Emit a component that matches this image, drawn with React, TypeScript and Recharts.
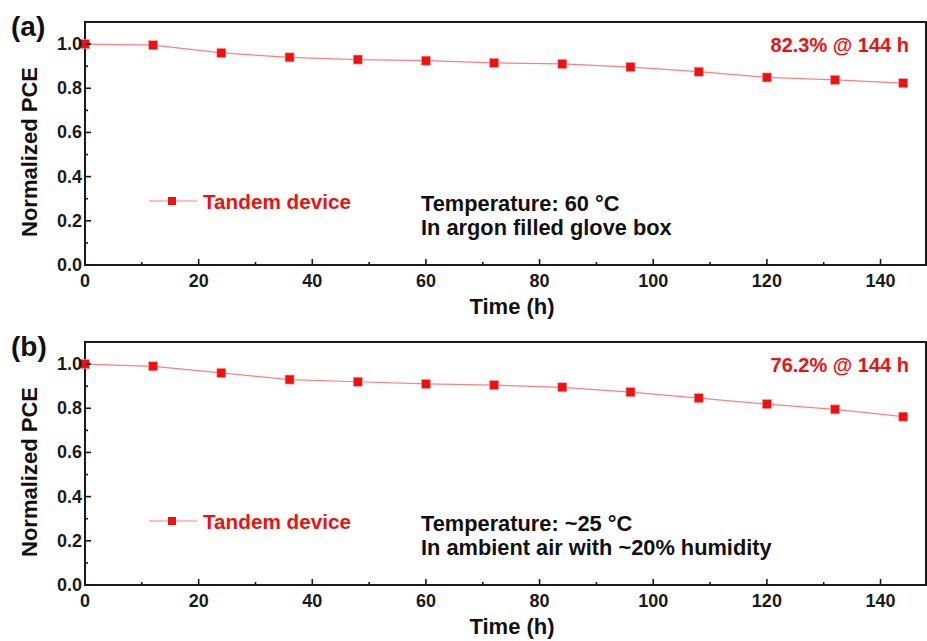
import React from "react";
import { LineChart, Line, XAxis, YAxis, ReferenceArea, Legend } from "recharts";

// time points (h)
const hours = [0, 12, 24, 36, 48, 60, 72, 84, 96, 108, 120, 132, 144];
// (a) 60 C, argon glove box
const pceArgon = [1.0, 0.995, 0.96, 0.94, 0.93, 0.925, 0.915, 0.91, 0.896, 0.875, 0.849, 0.838, 0.823];
// (b) ~25 C, ambient air ~20% RH
const pceAir = [1.0, 0.99, 0.96, 0.93, 0.92, 0.91, 0.905, 0.895, 0.873, 0.846, 0.819, 0.795, 0.762];

const xTicks = [0, 10, 20, 30, 40, 50, 60, 70, 80, 90, 100, 110, 120, 130, 140];
const yTicks = [0, 0.1, 0.2, 0.3, 0.4, 0.5, 0.6, 0.7, 0.8, 0.9, 1.0];

const FONT = "Arial, 'Liberation Sans', sans-serif";
const AXIS = "#1a1a1a";
const RED = "#ee1111";
const PINK = "#ff7f7f";

const XTick = (props: any) => {
  const { x, y, payload } = props;
  const major = payload.value % 20 === 0;
  return (
    <g>
      <line x1={x} x2={x} y1={y} y2={y - (major ? 6 : 3)} stroke={AXIS} strokeWidth={1.6} />
      {major && (
        <text x={x} y={y + 22} textAnchor="middle" fontFamily={FONT} fontWeight="bold" fontSize={18} fill={AXIS}>
          {payload.value}
        </text>
      )}
    </g>
  );
};

const YTick = (props: any) => {
  const { x, y, payload } = props;
  const major = Math.round(payload.value * 10) % 2 === 0;
  return (
    <g>
      <line x1={x} x2={x + (major ? 6 : 3)} y1={y} y2={y} stroke={AXIS} strokeWidth={1.6} />
      {major && (
        <text x={x - 3} y={y + 6} textAnchor="end" fontFamily={FONT} fontWeight="bold" fontSize={18} fill={AXIS}>
          {payload.value.toFixed(1)}
        </text>
      )}
    </g>
  );
};

const squareDot = (props: any) => {
  const { cx, cy, index } = props;
  return <rect key={`dot-${index}`} x={cx - 4.5} y={cy - 4.5} width={9} height={9} fill={RED} stroke="#ff9a9a" strokeWidth={0.6} />;
};

const LegendBox = (props: any) => {
  const item = props.payload && props.payload[0];
  return (
    <svg width={230} height={28} style={{ display: "block" }}>
      <line x1={0} x2={48} y1={12} y2={12} stroke={PINK} strokeWidth={1.2} />
      <rect x={19} y={8} width={8} height={8} fill={RED} />
      <text x={54} y={20} fontFamily={FONT} fontWeight="bold" fontSize={20.7} fill={RED}>
        {item ? item.value : "Tandem device"}
      </text>
    </svg>
  );
};

function Panel({ values }: { values: number[] }) {
  const rows = hours.map((h, i) => ({ h, pce: values[i] }));
  return (
    <LineChart width={927} height={320} data={rows} margin={{ top: 22, right: 1, bottom: 0, left: 0 }}>
      <XAxis
        dataKey="h"
        type="number"
        domain={[0, 148]}
        ticks={xTicks}
        interval={0}
        height={55}
        tickSize={0}
        tickMargin={0}
        tickLine={false}
        tick={<XTick />}
        axisLine={{ stroke: AXIS, strokeWidth: 2 }}
      />
      <YAxis
        type="number"
        domain={[0, 1.1]}
        ticks={yTicks}
        interval={0}
        width={85}
        tickSize={0}
        tickMargin={0}
        tickLine={false}
        tick={<YTick />}
        axisLine={{ stroke: AXIS, strokeWidth: 2 }}
      />
      <ReferenceArea x1={0} x2={148} y1={0} y2={1.1} fill="none" stroke={AXIS} strokeWidth={2} />
      <Legend
        layout="horizontal"
        verticalAlign="middle"
        align="center"
        content={<LegendBox />}
        wrapperStyle={{ position: "absolute", left: 149, top: 189, width: 230, height: 28 }}
      />
      <Line
        dataKey="pce"
        name="Tandem device"
        stroke={PINK}
        strokeWidth={1.2}
        dot={squareDot}
        activeDot={false}
        isAnimationActive={false}
      />
    </LineChart>
  );
}

function Notes({ top, letter, retention, cond1, cond2 }: { top: number; letter: string; retention: string; cond1: string; cond2: string }) {
  return (
    <svg width={927} height={320} style={{ position: "absolute", left: 0, top, pointerEvents: "none" }}>
      <text x={11} y={36} fontFamily={FONT} fontWeight="bold" fontSize={28} fill="#111">{letter}</text>
      <text x={909} y={52} textAnchor="end" fontFamily={FONT} fontWeight="bold" fontSize={20} fill={RED}>{retention}</text>
      <text x={421} y={211} fontFamily={FONT} fontWeight="bold" fontSize={21.8} fill="#111">{cond1}</text>
      <text x={421} y={235} fontFamily={FONT} fontWeight="bold" fontSize={21.8} fill="#111">{cond2}</text>
      <text
        x={37}
        y={152}
        transform="rotate(-90, 37, 152)"
        textAnchor="middle"
        fontFamily={FONT}
        fontWeight="bold"
        fontSize={22}
        fill="#111"
      >
        Normalized PCE
      </text>
      <text x={512} y={314} textAnchor="middle" fontFamily={FONT} fontWeight="bold" fontSize={22} fill="#111">Time (h)</text>
    </svg>
  );
}

export default function App() {
  return (
    <div style={{ position: "absolute", left: 0, top: 0, width: 927, height: 641, background: "#fff" }}>
      <div style={{ position: "absolute", left: 0, top: 0 }}>
        <Panel values={pceArgon} />
      </div>
      <div style={{ position: "absolute", left: 0, top: 320 }}>
        <Panel values={pceAir} />
      </div>
      <Notes top={0} letter="(a)" retention="82.3% @ 144 h" cond1="Temperature: 60 °C" cond2="In argon filled glove box" />
      <Notes top={320} letter="(b)" retention="76.2% @ 144 h" cond1="Temperature: ~25 °C" cond2="In ambient air with ~20% humidity" />
    </div>
  );
}
